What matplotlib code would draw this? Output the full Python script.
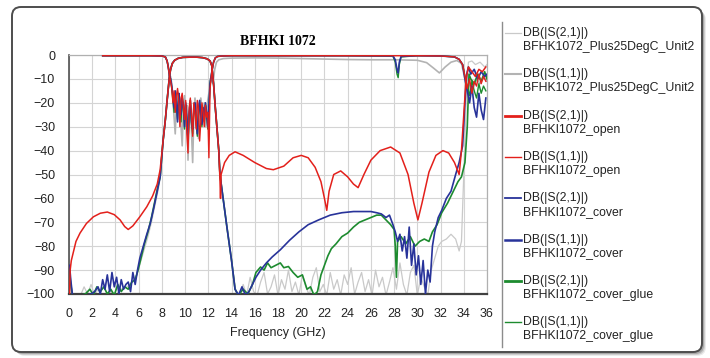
import matplotlib
matplotlib.use('Agg')
import matplotlib.pyplot as plt
from matplotlib.patches import FancyBboxPatch
from matplotlib.lines import Line2D
from matplotlib.transforms import IdentityTransform

plt.rcParams['font.family'] = ['Liberation Sans', 'DejaVu Sans']

# ---------------- data (GHz, dB) ----------------
# shared passband arch of all S21 traces
arch_f = [8.1, 8.3, 8.45, 8.55, 8.65, 8.75, 8.9, 9.1, 9.4, 9.8,
          10.4, 11.0, 11.5, 11.9, 12.15, 12.3, 12.45, 12.6, 12.75, 12.9]
arch_db = [-36, -27, -19, -14, -9, -6, -3.5, -2.2, -1.4, -1.0,
           -0.9, -0.9, -1.1, -1.6, -2.5, -4.5, -12, -22, -31, -40]

# S21 open (red)
red_s21_lo_f = [0.05, 0.1, 0.2, 0.35, 0.6, 0.95, 1.5, 2.1, 2.7, 3.3,
                3.9, 4.4, 4.8, 5.1, 5.5, 6.1, 6.7, 7.2, 7.6, 7.85]
red_s21_lo = [-100, -90, -86, -83, -78, -74.5, -70.5, -67.7, -66.2, -65.7,
              -66.8, -69, -71.8, -73, -71.5, -67.7, -63.5, -59, -54, -48]
red_s21_hi_f = [13.0, 13.05, 13.1, 13.4, 13.8, 14.3, 15.0, 16.0, 17.0, 17.6,
                18.5, 19.3, 20.0, 20.6, 21.2, 21.7, 22.0, 22.2, 22.4, 22.8,
                23.4, 24.0, 24.5, 24.9, 25.4, 26.0, 26.8, 27.7, 28.5, 29.2,
                29.7, 30.05, 30.4, 31.0, 31.6, 32.2, 32.7, 33.2, 33.6, 33.8,
                34.0, 34.2, 34.4, 34.7, 35.0, 35.3, 35.6, 35.9]
red_s21_hi = [-52, -60, -50, -45, -42, -40.5, -42, -45, -47.5, -48,
              -46.5, -43, -42, -43, -47, -53, -60, -65, -57, -50,
              -48.5, -51, -54, -55.5, -50, -44, -40, -38.5, -41, -50,
              -62, -69, -62, -49, -42, -40, -41, -45, -50, -40,
              -25, -10, -5, -7, -9, -6, -7, -5]

# S21 cover (blue)
blue_s21_lo_f = [0.05, 0.15, 0.3, 0.5, 1.0, 1.5, 1.9, 2.2, 2.5, 2.7,
                 2.9, 3.1, 3.3, 3.5, 3.7, 3.9, 4.1, 4.3, 4.5, 4.7,
                 4.9, 5.1, 5.3, 5.5, 5.7, 5.9, 6.1, 6.4, 6.7, 7.0,
                 7.3, 7.6, 7.85]
blue_s21_lo = [-88, -94, -100.5, -100.5, -100.5, -100.5, -100, -99, -97, -100,
               -94, -98, -92, -99, -91, -97, -93, -100, -94, -98,
               -96, -95, -99, -91, -96, -90, -85, -80, -75, -70.5,
               -64, -57, -51]
blue_s21_hi_f = [13.0, 13.3, 13.6, 14.0, 14.3, 14.6, 14.9, 15.2, 15.5, 15.8,
                 16.1, 16.5, 17.0, 17.5, 18.2, 19.0, 19.8, 20.6, 21.5, 22.5,
                 23.5, 24.5, 25.4, 26.0, 26.5, 26.9, 27.3, 27.6, 27.9, 28.1,
                 28.3, 28.5, 28.7, 28.9, 29.1, 29.3, 29.5, 29.7, 29.9, 30.1,
                 30.3, 30.5, 30.7, 30.9, 31.1, 31.3, 31.5, 31.8, 32.1, 32.5,
                 32.9, 33.3, 33.6, 33.9, 34.1, 34.25, 34.4, 34.6, 34.9, 35.2,
                 35.5, 35.8, 36.0]
blue_s21_hi = [-50, -61, -72, -86, -98, -100.5, -97, -100.5, -99, -96,
               -93, -90, -87, -84.5, -81.5, -77.5, -74, -71, -69, -67,
               -66, -65.5, -65.5, -65.5, -66, -66.5, -68, -67, -71, -74,
               -78, -75, -82, -76, -85, -72, -88, -79, -92, -84,
               -96, -86, -100, -90, -95, -80, -74, -68, -65, -60,
               -57, -50, -45, -38, -20, -8, -5, -8, -6, -10,
               -7, -9, -8]

# S21 cover_glue (green)
green_s21_lo_f = [0.05, 0.15, 0.3, 0.6, 1.0, 1.4, 1.8, 2.1, 2.4, 2.7,
                  3.0, 3.3, 3.6, 3.9, 4.2, 4.5, 4.8, 5.1, 5.4, 5.7,
                  5.95, 6.2, 6.5, 6.8, 7.1, 7.4, 7.65, 7.85]
green_s21_lo = [-90, -96, -100.5, -100.5, -100.5, -100, -98, -100.5, -97, -99,
                -97, -100, -98, -100.5, -96, -99, -97, -98, -95, -94,
                -90, -85, -79, -74, -68, -61, -55, -51]
green_s21_hi_f = [13.0, 13.3, 13.6, 14.0, 14.3, 14.6, 15.0, 15.4, 15.8, 16.1,
                  16.5, 16.8, 17.1, 17.4, 17.8, 18.2, 18.5, 18.9, 19.3, 19.7,
                  20.1, 20.5, 20.8, 21.1, 21.4, 21.7, 22.0, 22.3, 22.6, 23.0,
                  23.5, 24.0, 24.5, 25.0, 25.5, 26.0, 26.5, 26.9, 27.3, 27.7,
                  28.0, 28.1, 28.2, 28.3, 28.6, 29.0, 29.4, 29.8, 30.2, 30.6,
                  31.0, 31.3, 31.7, 32.1, 32.6, 33.0, 33.5, 33.8, 34.1, 34.3,
                  34.45, 34.6, 34.9, 35.2, 35.5, 35.8, 36.0]
green_s21_hi = [-50, -61, -72, -86, -98, -100.5, -98, -100, -96, -91,
                -88.7, -90, -87, -89, -88, -87, -89, -88.5, -91, -93,
                -92, -98, -97, -100.5, -99, -92, -88, -84, -81, -79,
                -76, -74.5, -72, -70, -69, -68, -67, -67, -69, -71,
                -73, -80, -93, -78, -76, -79, -76, -80, -78, -77,
                -78, -74, -71, -66, -62, -58, -53, -51, -45, -30,
                -8, -10, -12, -8, -11, -7, -10]

# S21 Plus25 (light grey)
gray_s21_lo_f = [0.05, 0.2, 0.5, 1.0, 1.3, 1.6, 1.9, 2.2, 2.5, 2.8,
                 3.2, 3.6, 4.0, 4.5, 5.0, 5.5, 5.9, 6.2, 6.5, 6.8,
                 7.1, 7.4, 7.7, 7.9]
gray_s21_lo = [-95, -100.5, -100.5, -100.5, -97, -100, -96, -100.5, -98, -100.5,
               -100.5, -99, -100.5, -98, -97, -95, -91, -86, -81, -76,
               -70, -63, -56, -50]
gray_s21_hi_f = [13.0, 13.3, 13.6, 14.0, 14.4,
                 14.7, 15.0, 15.3, 15.6, 15.9, 16.2, 16.5, 16.8, 17.1, 17.4,
                 17.7, 18.0, 18.3, 18.6, 18.9, 19.2, 19.5, 19.8, 20.1, 20.4,
                 20.7, 21.0, 21.3, 21.6, 21.9, 22.2, 22.5, 22.8, 23.1, 23.4,
                 23.7, 24.0, 24.3, 24.6, 24.9, 25.2, 25.5, 25.8, 26.1, 26.4,
                 26.7, 27.0, 27.3, 27.6, 27.9, 28.2, 28.5, 28.8, 29.1, 29.4,
                 29.7, 30.0, 30.3, 30.6, 30.9, 31.2,
                 31.5, 31.8, 32.1, 32.5, 32.9, 33.3, 33.6, 33.8, 34.0, 34.2,
                 34.4, 34.7, 35.0, 35.4, 35.8, 36.0]
gray_s21_hi = [-50, -61, -72, -86, -100,
               -100.5, -96, -100.5, -93, -99, -100.5, -95, -91, -100, -97,
               -92, -100.5, -94, -98, -90, -99, -95, -100.5, -92, -97,
               -100.5, -93, -89, -99, -96, -100.5, -91, -98, -94, -100.5,
               -92, -96, -89, -100, -95, -91, -99, -94, -100.5, -90,
               -97, -93, -100.5, -95, -89, -98, -87, -96, -100.5, -91,
               -88, -100.5, -93, -97, -100.5, -90,
               -85, -80, -78, -77, -75, -77, -82, -78, -50, -20,
               -3, -2.5, -4, -3, -5, -4]

# S11 traces: flat part below the band, noisy passband, upper part
s11_lo_f = [2.9, 4.0, 5.5, 7.0, 8.0, 8.3, 8.45, 8.55, 8.65]
s11_lo = [-0.3, -0.3, -0.3, -0.3, -0.4, -0.8, -2.5, -5, -8.5]
pb_f = [8.75, 8.85, 8.95, 9.05, 9.15, 9.25, 9.35, 9.45, 9.55, 9.65,
        9.75, 9.85, 9.95, 10.05, 10.15, 10.25, 10.35, 10.45, 10.55, 10.65,
        10.75, 10.85, 10.95, 11.05, 11.15, 11.25, 11.35, 11.45, 11.55, 11.65,
        11.75, 11.85, 11.95, 12.05, 12.15]
red_s11_pb = [-11, -14, -20, -15, -24, -17, -14, -19, -30, -18,
              -16, -22, -27, -19, -33, -41, -22, -18, -25, -34,
              -20, -24, -31, -19, -22, -36, -28, -20, -24, -30,
              -21, -26, -24, -43, -14]
blue_s11_pb = [-10, -13, -17, -22, -15, -20, -28, -16, -19, -25,
               -18, -21, -30, -20, -26, -35, -24, -19, -28, -31,
               -22, -20, -27, -33, -24, -19, -25, -29, -22, -27,
               -20, -24, -30, -21, -12]
green_s11_pb = [-10, -14, -19, -24, -16, -21, -27, -17, -20, -28,
                -19, -22, -31, -21, -27, -36, -25, -20, -29, -33,
                -23, -21, -28, -34, -25, -20, -26, -30, -23, -28,
                -21, -25, -31, -22, -12]
gray_s11_pb = [-9, -12, -18, -26, -33, -20, -15, -24, -19, -30,
               -38, -22, -17, -26, -21, -44, -28, -19, -32, -45,
               -26, -18, -24, -20, -35, -23, -18, -22, -26, -20,
               -30, -24, -19, -16, -10]
s11_hi_f = [12.3, 12.45, 12.6, 12.8, 13.2, 14.0, 16.0, 20.0, 24.0, 27.9,
            28.1, 28.25, 28.35, 28.45, 28.6, 30.0, 32.0, 33.2, 33.6, 33.9,
            34.1, 34.3, 34.5, 34.7, 34.9, 35.1, 35.3, 35.5, 35.7, 35.9]
red_s11_hi = [-7, -3, -1.2, -0.6, -0.4, -0.3, -0.3, -0.3, -0.3, -0.3,
              -0.3, -0.3, -0.3, -0.3, -0.3, -0.3, -0.4, -0.8, -1.8, -4,
              -9, -14, -10, -16, -11, -13, -8, -12, -9, -11]
blue_s11_hi = [-7, -3, -1.2, -0.6, -0.4, -0.3, -0.3, -0.3, -0.3, -0.4,
               -2, -6, -7.5, -3, -0.6, -0.3, -0.4, -0.8, -1.8, -4,
               -10, -15, -20, -13, -22, -26, -16, -23, -27, -18]
green_s11_hi = [-7, -3, -1.2, -0.6, -0.4, -0.3, -0.3, -0.3, -0.3, -0.5,
                -3, -8, -9.5, -4, -0.8, -0.3, -0.4, -0.8, -1.8, -4,
                -9, -13, -17, -11, -15, -18, -12, -16, -13, -15]
gray_s11_hi_f = [12.4, 12.55, 12.7, 12.9, 13.3, 14, 16, 18, 20, 22,
                 24, 26, 28, 30, 30.8, 31.4, 31.9, 32.4, 32.9, 33.4,
                 33.8, 34.1, 34.3, 34.5, 34.8, 35.1, 35.4, 35.7, 36.0]
gray_s11_hi = [-12, -6, -3, -2, -1.5, -1.3, -1.2, -1.3, -1.5, -1.7,
               -1.9, -2, -2, -2.2, -3.2, -5.5, -7.5, -5, -3, -2.3,
               -3.5, -10, -15, -12, -14, -10, -12, -9, -11]

legend_title = ['DB(|S(2,1)|)', 'DB(|S(1,1)|)'] * 4
legend_name = ['BFHK1072_Plus25DegC_Unit2', 'BFHK1072_Plus25DegC_Unit2',
               'BFHKI1072_open', 'BFHKI1072_open',
               'BFHKI1072_cover', 'BFHKI1072_cover',
               'BFHKI1072_cover_glue', 'BFHKI1072_cover_glue']

# ---------------- styles ----------------
c_gray1 = '#c9c9c9'
c_gray2 = '#b3b3b3'
c_red = '#e3201b'
c_blue = '#28339a'
c_green = '#1d8b2f'
leg_styles = [(c_gray1, 0.9), (c_gray2, 1.5), (c_red, 2.0), (c_red, 1.0),
              (c_blue, 1.3), (c_blue, 1.8), (c_green, 2.0), (c_green, 1.0)]

W, H = 710, 358
fig = plt.figure(figsize=(W / 100, H / 100), dpi=100)
fig.patch.set_facecolor('white')

# outer rounded frame with a soft shadow (pixel coordinates)
for off, a in [(4, 0.08), (3, 0.12), (2, 0.18)]:
    sh = FancyBboxPatch((12 + off, H - 352 - off), 690, 345,
                        boxstyle='round,pad=0,rounding_size=9',
                        transform=IdentityTransform(), fc='#000000',
                        ec='none', alpha=a, zorder=-3)
    fig.add_artist(sh)
frame = FancyBboxPatch((12, H - 352), 690, 345,
                       boxstyle='round,pad=0,rounding_size=9',
                       transform=IdentityTransform(), fc='white',
                       ec='#4d4d4d', lw=1.4, zorder=-2)
fig.add_artist(frame)

ax = fig.add_axes([69 / W, 1 - 294 / H, (487 - 69) / W, (294 - 55) / H])
ax.set_zorder(1)


def plot_trace(f, db, color, lw, z):
    ax.plot(f, db, color=color, lw=lw, zorder=z, solid_joinstyle='round')


plot_trace(gray_s21_lo_f + arch_f + gray_s21_hi_f,
           gray_s21_lo + arch_db + gray_s21_hi, c_gray1, 0.9, 2)
plot_trace(s11_lo_f + pb_f + gray_s11_hi_f,
           s11_lo + gray_s11_pb + gray_s11_hi, c_gray2, 1.2, 2.1)
plot_trace(green_s21_lo_f + arch_f + green_s21_hi_f,
           green_s21_lo + arch_db + green_s21_hi, c_green, 1.2, 3)
plot_trace(s11_lo_f + pb_f + s11_hi_f,
           s11_lo + green_s11_pb + green_s11_hi, c_green, 1.0, 3.1)
plot_trace(blue_s21_lo_f + arch_f + blue_s21_hi_f,
           blue_s21_lo + arch_db + blue_s21_hi, c_blue, 1.2, 4)
plot_trace(s11_lo_f + pb_f + s11_hi_f,
           s11_lo + blue_s11_pb + blue_s11_hi, c_blue, 1.2, 4.1)
plot_trace(red_s21_lo_f + arch_f + red_s21_hi_f,
           red_s21_lo + arch_db + red_s21_hi, c_red, 1.1, 5)
plot_trace(s11_lo_f + pb_f + s11_hi_f,
           s11_lo + red_s11_pb + red_s11_hi, c_red, 1.0, 5.1)

ax.set_xlim(0, 36)
ax.set_ylim(-100, 0)
ax.set_xticks(range(0, 37, 2))
ax.set_yticks(range(-100, 1, 10))
ax.grid(True, color='#d4d4d4', lw=0.8, zorder=0)
ax.set_axisbelow(True)
ax.tick_params(length=0, labelsize=9, colors='#222222', pad=10)
for s in ['top', 'right']:
    ax.spines[s].set_color('#b0b0b0')
    ax.spines[s].set_linewidth(0.9)
ax.spines['bottom'].set_color('#404040')
ax.spines['bottom'].set_linewidth(1.6)
ax.spines['left'].set_color('#505050')
ax.spines['left'].set_linewidth(1.2)
ax.set_xlabel('Frequency (GHz)', fontsize=9, color='#222222', labelpad=5)
ax.set_title('BFHKI 1072', fontsize=10, fontweight='bold',
             family='Liberation Serif', pad=7)

# legend panel on the right
fig.add_artist(Line2D([502 / W, 502 / W], [1 - 22 / H, 1 - 347 / H],
                      color='#8c8c8c', lw=1.0))
for i in range(8):
    y0 = 33 + 41.3 * i
    col, lw = leg_styles[i]
    fig.add_artist(Line2D([505 / W, 521 / W], [1 - y0 / H, 1 - y0 / H],
                          color=col, lw=lw))
    fig.text(523 / W, 1 - y0 / H, legend_title[i], fontsize=8.8,
             color='#222222', va='center', ha='left')
    fig.text(523 / W, 1 - (y0 + 14) / H, legend_name[i], fontsize=8.8,
             color='#222222', va='center', ha='left')

fig.savefig('out.png', dpi=100)
